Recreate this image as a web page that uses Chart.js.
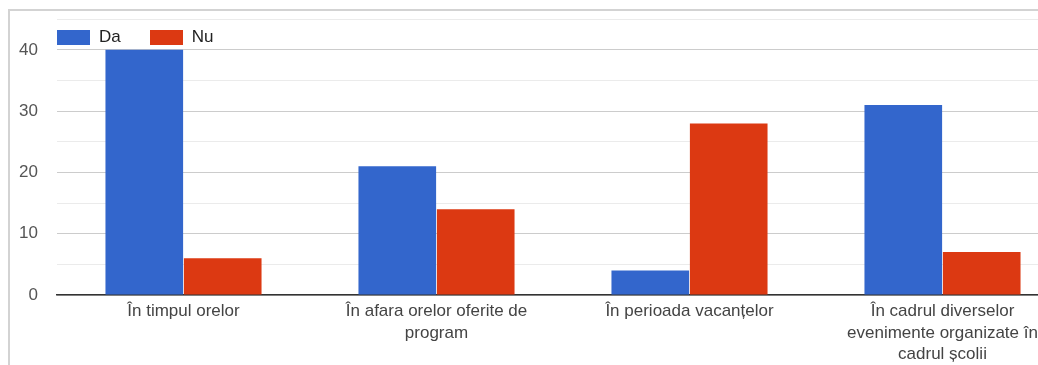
<!DOCTYPE html>
<html>
<head>
<meta charset="utf-8">
<script src="https://cdn.jsdelivr.net/npm/chart.js@4"></script>
<style>
  html, body { margin: 0; padding: 0; background: #fff; overflow: hidden; width: 1038px; height: 365px; }
  .line-top { position: absolute; left: 8px; top: 9px; width: 1030px; height: 2px; background: #d3d3d3; }
  .line-left { position: absolute; left: 8px; top: 9px; width: 2px; height: 356px; background: #d3d3d3; }
  .chart-box { position: absolute; left: 0; top: -10px; width: 1069px; height: 375px; }
  .clip { position: absolute; left: 0; top: 0; width: 1038px; height: 365px; overflow: hidden; }
  .legend { position: absolute; left: 57px; top: 27px; display: flex; font: 17px "Liberation Sans", Arial, sans-serif; color: #222; }
  .legend-item { display: flex; align-items: center; margin-right: 29px; }
  .legend-swatch { width: 33px; height: 15px; margin-right: 9px; }
</style>
</head>
<body>
<div class="clip">
  <div class="line-top"></div>
  <div class="line-left"></div>
  <div class="chart-box"><canvas id="chart"></canvas></div>
  <div class="legend" id="legend"></div>
</div>
<script>
const categories = [
  ['În timpul orelor'],
  ['În afara orelor oferite de', 'program'],
  ['În perioada vacanțelor'],
  ['În cadrul diverselor', 'evenimente organizate în', 'cadrul școlii']
];
const seriesNames = ['Da', 'Nu'];
const daValues = [40, 21, 4, 31];
const nuValues = [6, 14, 28, 7];
const yTickLabels = [0, 10, 20, 30, 40];
const colors = ['#3366cc', '#dc3912'];

const chart = new Chart(document.getElementById('chart'), {
  type: 'bar',
  data: {
    labels: categories,
    datasets: [
      { label: seriesNames[0], data: daValues, backgroundColor: colors[0] },
      { label: seriesNames[1], data: nuValues, backgroundColor: colors[1] }
    ]
  },
  options: {
    responsive: true,
    maintainAspectRatio: false,
    animation: false,
    layout: { padding: { top: 8, left: 0, right: 0, bottom: 0 } },
    datasets: {
      bar: { categoryPercentage: 0.62, barPercentage: 0.99 }
    },
    plugins: {
      legend: { display: false },
      tooltip: { enabled: false }
    },
    scales: {
      x: {
        grid: { display: false, drawTicks: false },
        border: { color: '#333', width: 1.5 },
        ticks: {
          color: '#444',
          font: { family: 'Liberation Sans', size: 17, lineHeight: 1.26 },
          padding: 6,
          maxRotation: 0,
          autoSkip: false
        },
        afterFit: function(scale) { scale.height = 70; }
      },
      y: {
        min: 0,
        max: 45,
        border: { display: false },
        grid: {
          drawTicks: false,
          color: function(ctx) {
            return ctx.tick && ctx.tick.value % 10 === 0 ? '#cccccc' : '#ebebeb';
          }
        },
        ticks: {
          stepSize: 5,
          color: '#555',
          font: { family: 'Liberation Sans', size: 17 },
          padding: 19,
          callback: function(value) {
            return yTickLabels.includes(value) ? String(value) : '';
          }
        },
        afterFit: function(scale) { scale.width = 57; }
      }
    }
  }
});

// legend drawn from the datasets, sitting inside the plot like the original
const legendEl = document.getElementById('legend');
chart.data.datasets.forEach(ds => {
  const item = document.createElement('div');
  item.className = 'legend-item';
  const sw = document.createElement('span');
  sw.className = 'legend-swatch';
  sw.style.background = ds.backgroundColor;
  const txt = document.createElement('span');
  txt.textContent = ds.label;
  item.appendChild(sw);
  item.appendChild(txt);
  legendEl.appendChild(item);
});
</script>
</body>
</html>
